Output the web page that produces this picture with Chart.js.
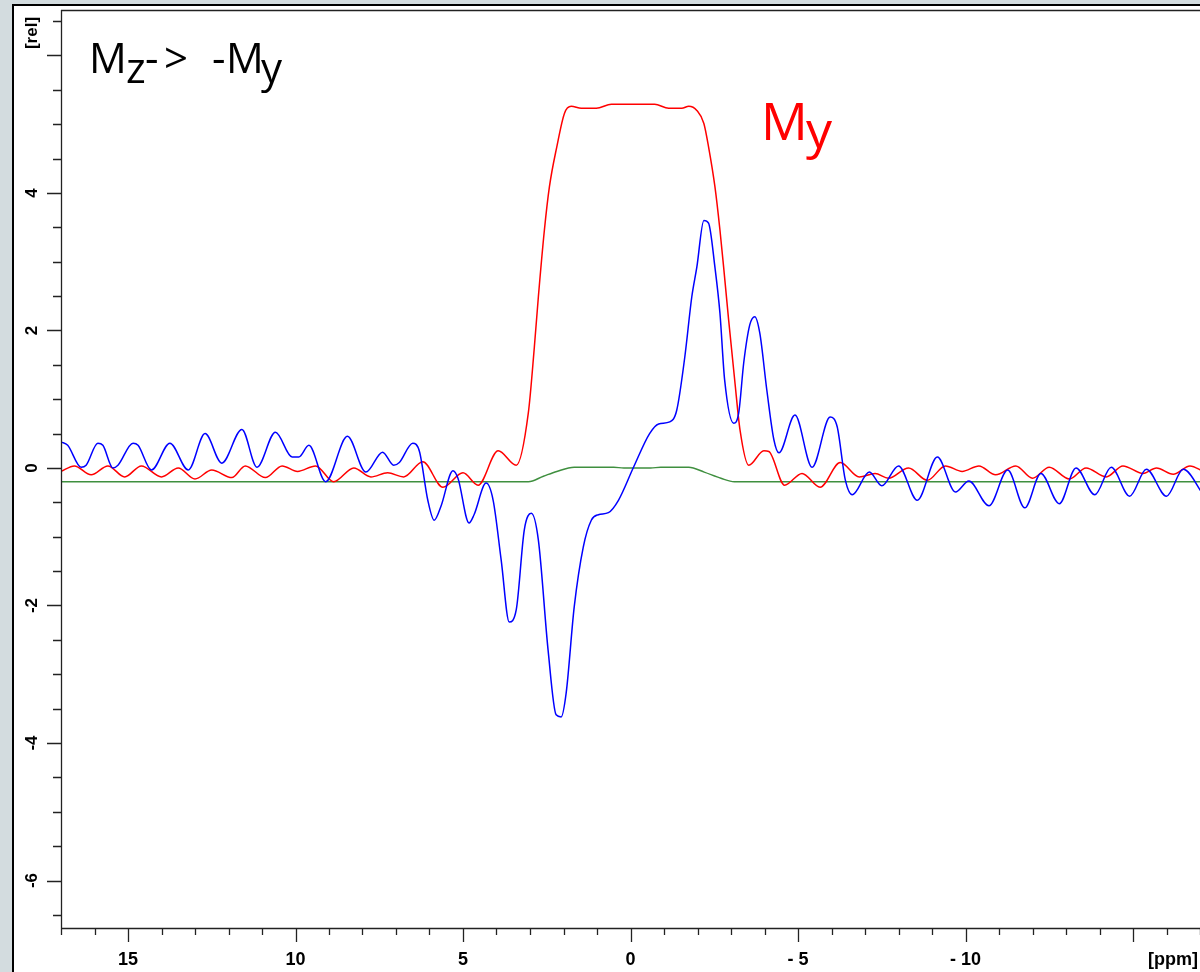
<!DOCTYPE html>
<html>
<head>
<meta charset="utf-8">
<script src="https://cdn.jsdelivr.net/npm/chart.js@4"></script>
<style>
  html, body { margin: 0; padding: 0; background: #fff; overflow: hidden; }
</style>
</head>
<body>
<canvas id="pulse" width="1200" height="972"></canvas>
<script>
// chemical shift axis (ppm) and intensity (rel)
var myPpm = [17.0, 16.6, 16.1, 15.6, 15.1, 14.6, 14.0, 13.5, 13.0, 12.5, 11.9, 11.5, 10.9, 10.4, 9.94, 9.4, 8.86, 8.26, 7.75, 7.25, 6.77, 6.2, 5.6, 5.0, 4.55, 3.95, 3.41, 3.05, 2.87, 2.75, 2.57, 2.42, 2.2, 1.97, 1.77, 1.47, 1.02, 0.57, -0.72, -1.14, -1.53, -1.74, -1.98, -2.19, -2.33, -2.52, -2.67, -2.78, -2.93, -3.11, -3.27, -3.53, -3.98, -4.13, -4.6, -5.12, -5.66, -6.26, -6.83, -7.3, -7.7, -8.3, -8.86, -9.4, -9.9, -10.4, -10.9, -11.5, -12.0, -12.5, -13.1, -13.6, -14.2, -14.7, -15.3, -15.7, -16.2, -16.7, -17.1];
var myVal = [-0.05, 0.03, -0.1, 0.03, -0.13, 0.03, -0.13, 0.0, -0.16, -0.03, -0.14, 0.03, -0.14, 0.03, -0.05, 0.03, -0.2, 0.0, -0.13, -0.07, -0.13, 0.09, -0.28, -0.07, -0.25, 0.25, 0.04, 0.8, 1.76, 2.49, 3.46, 4.09, 4.67, 5.16, 5.26, 5.23, 5.23, 5.29, 5.29, 5.23, 5.23, 5.26, 5.2, 5.01, 4.67, 4.09, 3.46, 2.92, 2.15, 1.28, 0.55, 0.04, 0.25, 0.24, -0.25, -0.08, -0.28, 0.08, -0.13, -0.08, -0.15, 0.0, -0.18, 0.03, -0.05, 0.03, -0.1, 0.03, -0.15, 0.01, -0.16, 0.0, -0.13, 0.03, -0.08, 0.0, -0.09, 0.03, -0.05];

var mxPpm = [17.0, 16.8, 16.4, 16.25, 15.9, 15.75, 15.45, 15.3, 14.85, 14.7, 14.3, 13.75, 13.2, 12.7, 12.2, 11.6, 11.15, 10.6, 10.1, 9.9, 9.6, 9.1, 8.45, 7.9, 7.4, 7.07, 6.9, 6.5, 6.3, 6.05, 5.86, 5.66, 5.3, 5.15, 4.82, 4.67, 4.31, 4.1, 3.86, 3.62, 3.41, 3.17, 2.96, 2.75, 2.46, 2.22, 2.07, 1.92, 1.68, 1.41, 1.17, 0.96, 0.66, 0.36, -0.09, -0.57, -0.84, -1.17, -1.38, -1.62, -1.83, -1.98, -2.19, -2.33, -2.52, -2.67, -2.81, -3.08, -3.23, -3.38, -3.56, -3.71, -3.86, -4.07, -4.28, -4.43, -4.91, -5.42, -5.96, -6.17, -6.41, -6.62, -7.13, -7.5, -8.0, -8.56, -9.16, -9.7, -10.1, -10.7, -11.26, -11.77, -12.25, -12.8, -13.3, -13.86, -14.35, -14.9, -15.4, -16.0, -16.5, -17.1];
var mxVal = [0.38, 0.33, 0.01, 0.04, 0.36, 0.33, 0.0, 0.04, 0.36, 0.33, -0.03, 0.36, -0.03, 0.5, 0.07, 0.56, 0.01, 0.52, 0.16, 0.16, 0.33, -0.2, 0.46, -0.06, 0.23, 0.04, 0.08, 0.36, 0.24, -0.47, -0.76, -0.56, -0.04, -0.15, -0.8, -0.68, -0.22, -0.47, -1.34, -2.24, -2.06, -0.9, -0.66, -1.05, -2.65, -3.59, -3.62, -3.27, -2.02, -1.15, -0.76, -0.68, -0.65, -0.47, 0.01, 0.5, 0.64, 0.67, 0.84, 1.61, 2.49, 2.92, 3.6, 3.56, 2.92, 2.25, 1.28, 0.65, 0.8, 1.53, 2.08, 2.2, 1.96, 1.13, 0.41, 0.22, 0.77, 0.01, 0.74, 0.6, -0.17, -0.39, -0.06, -0.26, 0.03, -0.47, 0.16, -0.35, -0.19, -0.55, -0.03, -0.58, -0.08, -0.52, 0.0, -0.39, 0.01, -0.41, -0.02, -0.41, -0.02, -0.39];

var mzPpm = [17.0, 3.05, 2.6, 2.2, 1.68, 0.5, 0.2, -0.6, -0.9, -1.74, -2.2, -2.7, -3.1, -17.1];
var mzVal = [-0.2, -0.2, -0.12, -0.05, 0.01, 0.01, 0.0, 0.0, 0.01, 0.01, -0.06, -0.15, -0.2, -0.2];

var yMajor = [6, 4, 2, 0, -2, -4, -6];
var yLabels = ['[rel]', '4', '2', '0', '-2', '-4', '-6'];
var xMajor = [15, 10, 5, 0, -5, -10, -15];
var xLabels = ['15', '10', '5', '0', '- 5', '- 10', '[ppm]'];

function pairs(xs, ys) {
  return xs.map(function (x, i) { return { x: x, y: ys[i] }; });
}

// draws the window frame, tick marks, rotated labels and the text notes
var spectrumFrame = {
  id: 'spectrumFrame',
  beforeDraw: function (chart) {
    var c = chart.ctx;
    c.save();
    c.fillStyle = '#d3dcdf';
    c.fillRect(0, 0, 1200, 4);
    c.fillRect(0, 0, 12, 972);
    c.fillStyle = '#000';
    c.fillRect(12, 4, 1188, 2);
    c.fillRect(12, 4, 2, 968);
    c.restore();
  },
  afterDraw: function (chart) {
    var c = chart.ctx;
    var a = chart.chartArea;
    var xs = chart.scales.x, ys = chart.scales.y;
    c.save();
    c.strokeStyle = '#222';
    c.lineWidth = 1.3;
    c.beginPath();
    c.moveTo(a.left + 0.5, a.top);
    c.lineTo(a.left + 0.5, a.bottom);
    c.moveTo(a.left, a.bottom + 0.5);
    c.lineTo(a.right, a.bottom + 0.5);
    c.moveTo(a.left, a.top + 0.5);
    c.lineTo(a.right, a.top + 0.5);
    c.stroke();

    // y ticks every 0.5, long ones on the labelled values
    c.beginPath();
    for (var v = -6.5; v <= 6.5; v += 0.5) {
      var py = Math.round(ys.getPixelForValue(v)) + 0.5;
      var len = yMajor.indexOf(v) >= 0 ? 14 : 8;
      c.moveTo(a.left - len, py);
      c.lineTo(a.left, py);
    }
    // x ticks every 1 ppm, long ones every 5
    for (var p = -17; p <= 17; p += 1) {
      var px = Math.round(xs.getPixelForValue(p)) + 0.5;
      var l2 = p % 5 === 0 ? 14 : 7;
      c.moveTo(px, a.bottom);
      c.lineTo(px, a.bottom + l2);
    }
    c.stroke();

    c.fillStyle = '#000';
    c.font = 'bold 17px "Liberation Sans", Arial, sans-serif';
    c.textBaseline = 'middle';
    yMajor.forEach(function (val, i) {
      var yy = ys.getPixelForValue(val);
      if (yLabels[i] === '[rel]') yy = 33;
      c.save();
      c.translate(32, yy);
      c.rotate(-Math.PI / 2);
      c.textAlign = 'center';
      c.fillText(yLabels[i], 0, 0);
      c.restore();
    });

    c.font = 'bold 18px "Liberation Sans", Arial, sans-serif';
    xMajor.forEach(function (val, i) {
      if (xLabels[i] === '[ppm]') {
        c.textAlign = 'right';
        c.fillText(xLabels[i], 1198, 960);
      } else {
        c.textAlign = 'center';
        c.fillText(xLabels[i], xs.getPixelForValue(val), 960);
      }
    });

    // notes in the plot
    c.textAlign = 'left';
    c.textBaseline = 'alphabetic';
    c.font = '42px "Open Sans", sans-serif';
    c.fillText('M', 89, 73);
    c.fillText('z', 126, 83);
    c.fillText('-', 145, 73);
    c.fillText('>', 164, 73);
    c.fillText('-', 212, 73);
    c.fillText('M', 226, 73);
    c.fillText('y', 261, 83);

    c.fillStyle = '#ff0000';
    c.font = '52px "Open Sans", sans-serif';
    c.fillText('M', 761, 140);
    c.fillText('y', 806, 148);
    c.restore();
  }
};

var ctx = document.getElementById('pulse');
var spectrum = new Chart(ctx, {
  type: 'line',
  data: {
    datasets: [{
      label: 'Mx',
      data: pairs(mxPpm, mxVal),
      borderColor: '#0000ff',
      borderWidth: 1.5
    }, {
      label: 'My',
      data: pairs(myPpm, myVal),
      borderColor: '#ff0000',
      borderWidth: 1.5
    }, {
      label: 'Mz',
      data: pairs(mzPpm, mzVal),
      borderColor: '#3f8f3f',
      borderWidth: 1.5
    }]
  },
  options: {
    responsive: false,
    animation: false,
    cubicInterpolationMode: 'monotone',
    elements: { point: { radius: 0 } },
    layout: { padding: { top: 10, right: 0, left: 0, bottom: 0 } },
    plugins: { legend: { display: false }, tooltip: { enabled: false } },
    scales: {
      x: {
        type: 'linear',
        reverse: true,
        min: -17,
        max: 17,
        ticks: { display: false },
        grid: { display: false },
        border: { display: false },
        afterFit: function (s) { s.height = 44; }
      },
      y: {
        min: -6.69,
        max: 6.66,
        ticks: { display: false },
        grid: { display: false },
        border: { display: false },
        afterFit: function (s) { s.width = 61; }
      }
    }
  },
  plugins: [spectrumFrame]
});
</script>
</body>
</html>
